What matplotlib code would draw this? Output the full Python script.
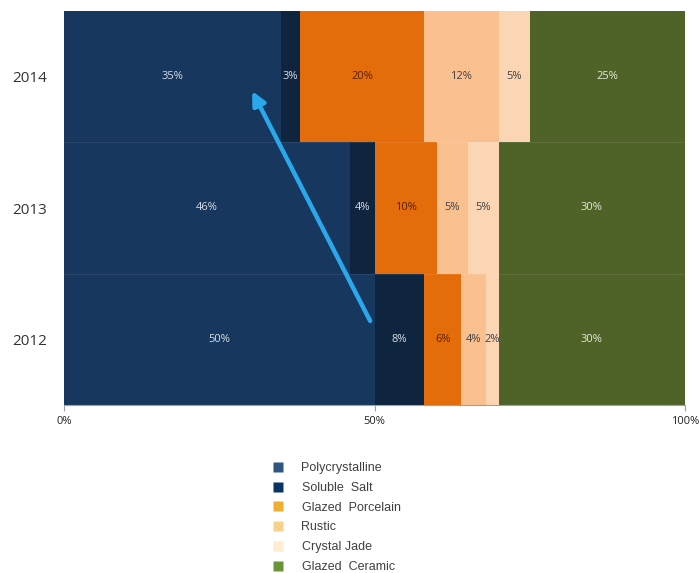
import matplotlib
matplotlib.use("Agg")
import matplotlib.pyplot as plt
from matplotlib.lines import Line2D

years = ["2012", "2013", "2014"]
categories = ["Polycrystalline", "Soluble  Salt", "Glazed  Porcelain",
              "Rustic", "Crystal Jade", "Glazed  Ceramic"]
polycrystalline = [50, 46, 35]
soluble_salt = [8, 4, 3]
glazed_porcelain = [6, 10, 20]
rustic = [4, 5, 12]
crystal_jade = [2, 5, 5]
glazed_ceramic = [30, 30, 25]
series = [polycrystalline, soluble_salt, glazed_porcelain, rustic, crystal_jade, glazed_ceramic]

bar_colors = ["#17375E", "#0F243E", "#E46C0A", "#FAC090", "#FCD5B5", "#4F6228"]
legend_colors = ["#2F5583", "#0B3466", "#F0AE30", "#F7D08A", "#FDEBD2", "#6A9438"]
label_colors = ["#D8DEE8", "#D8DEE8", "#5A1E00", "#404040", "#404040", "#E4EAD8"]

fig = plt.figure(figsize=(6.99, 5.73), dpi=100)
ax = fig.add_axes([64 / 699, 1 - 405 / 573, 621 / 699, 394 / 573])

y = list(range(len(years)))
left = [0] * len(years)
for vals, col, lc in zip(series, bar_colors, label_colors):
    ax.barh(y, vals, left=left, height=1.0, color=col, edgecolor="none")
    for yi, v, l in zip(y, vals, left):
        ax.text(l + v / 2, yi, f"{v}%", ha="center", va="center",
                fontsize=8, color=lc, family="Open Sans")
    left = [a + b for a, b in zip(left, vals)]

# faint row separators
for yy in [0.5, 1.5]:
    ax.axhline(yy, color="white", lw=0.4, alpha=0.15)

ax.annotate("", xy=(30.3, 1.89), xytext=(49.3, 0.14),
            arrowprops=dict(arrowstyle="-|>,head_length=0.8,head_width=0.4",
                            color="#2AA8EC", lw=3.2, shrinkA=0, shrinkB=0))

ax.set_xlim(0, 100)
ax.set_ylim(-0.5, 2.5)
ax.set_xticks([0, 50, 100])
ax.set_xticklabels(["0%", "50%", "100%"], fontsize=8, color="#222222", family="Open Sans")
ax.set_yticks(y)
ax.set_yticklabels(years, fontsize=11, color="#333333", family="Open Sans")
ax.tick_params(axis="y", length=0, pad=12)
ax.tick_params(axis="x", length=4, color="#A0A0A0", direction="out", pad=4)
for s in ["top", "right", "left"]:
    ax.spines[s].set_visible(False)
ax.spines["bottom"].set_color("#A0A0A0")

handles = [Line2D([], [], marker="s", linestyle="none", markersize=7,
                  markerfacecolor=c, markeredgecolor="none") for c in legend_colors]
fig.legend(handles, categories, loc="upper left", bbox_to_anchor=(254 / 699, 1 - 451 / 573),
           frameon=False, labelspacing=0.62, handletextpad=0.9,
           prop={"family": "Liberation Sans", "size": 9})
for t in fig.legends[0].get_texts():
    t.set_color("#404040")

fig.savefig("out.png", dpi=100)
